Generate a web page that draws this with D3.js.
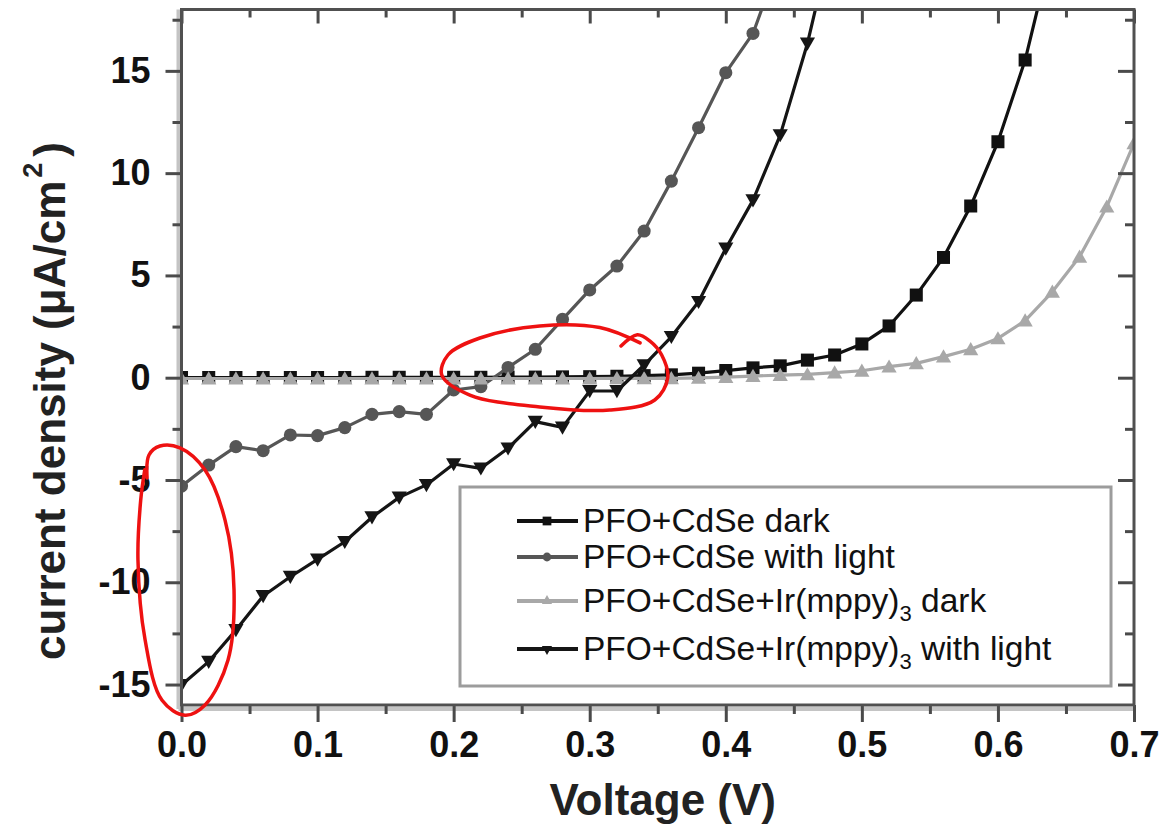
<!DOCTYPE html>
<html>
<head>
<meta charset="utf-8">
<script src="https://cdn.jsdelivr.net/npm/d3@7"></script>
<style>
  html, body { margin: 0; padding: 0; background: #fff; }
  svg { display: block; }
  text { font-family: "Liberation Sans", Arial, Helvetica, sans-serif; }
</style>
</head>
<body>
<svg id="chart" width="1164" height="833"></svg>
<script>
// Bias voltage (V), sampled every 20 mV
const voltage = [0.00, 0.02, 0.04, 0.06, 0.08, 0.10, 0.12, 0.14, 0.16, 0.18,
                 0.20, 0.22, 0.24, 0.26, 0.28, 0.30, 0.32, 0.34, 0.36, 0.38,
                 0.40, 0.42, 0.44, 0.46, 0.48, 0.50, 0.52, 0.54, 0.56, 0.58,
                 0.60, 0.62, 0.64, 0.66, 0.68, 0.70];

// Current density (uA/cm^2); each list starts at 0 V
const cdseDark = [0.01, 0.01, 0.01, 0.01, 0.01, 0.01, 0.01, 0.02, 0.02, 0.02,
                  0.02, 0.02, 0.03, 0.03, 0.04, 0.05, 0.07, 0.10, 0.14, 0.22,
                  0.35, 0.48, 0.58, 0.86, 1.11, 1.65, 2.53, 4.04, 5.88, 8.39,
                  11.53, 15.53, 21.0];
const cdseLight = [-5.30, -4.27, -3.37, -3.57, -2.80, -2.83, -2.44, -1.79, -1.66, -1.79,
                   -0.60, -0.44, 0.50, 1.39, 2.85, 4.29, 5.46, 7.17, 9.61, 12.22,
                   14.91, 16.83, 20.5];
const irDark = [-0.04, -0.04, -0.04, -0.04, -0.04, -0.04, -0.04, -0.04, -0.04, -0.04,
                -0.04, -0.04, -0.04, -0.04, -0.04, -0.04, -0.03, -0.03, -0.03, -0.01,
                0.03, 0.08, 0.13, 0.16, 0.25, 0.34, 0.54, 0.70, 1.03, 1.39,
                1.92, 2.79, 4.20, 5.91, 8.36, 11.46];
const irLight = [-15.02, -13.88, -12.33, -10.67, -9.73, -8.88, -8.02, -6.82, -5.85, -5.24,
                 -4.22, -4.43, -3.45, -2.15, -2.43, -0.65, -0.65, 0.62, 2.00, 3.71,
                 6.32, 8.68, 11.86, 16.34, 22.0];

// Axis ticks
const xTicks = [0.0, 0.1, 0.2, 0.3, 0.4, 0.5, 0.6, 0.7];
const xMinorTicks = [0.05, 0.15, 0.25, 0.35, 0.45, 0.55, 0.65];
const yTicks = [-15, -10, -5, 0, 5, 10, 15];
const yMinorTicks = [-12.5, -7.5, -2.5, 2.5, 7.5, 12.5, 17.5];

// Series labels (main text, subscript, trailing text)
const seriesLabels = [
  ["PFO+CdSe dark", "", ""],
  ["PFO+CdSe with light", "", ""],
  ["PFO+CdSe+Ir(mppy)", "3", " dark"],
  ["PFO+CdSe+Ir(mppy)", "3", " with light"]
];

// Hand-drawn highlight loops, in data units (V, uA/cm^2)
const loopOpenCircuit = [[0.3230, 1.55], [0.3350, 2.10], [0.3441, 1.80], [0.3529, 1.11],
  [0.3573, -0.01], [0.3478, -1.09], [0.3147, -1.58], [0.2633, -1.43], [0.2119, -0.85],
  [0.1913, 0.13], [0.1958, 1.11], [0.2193, 1.94], [0.2633, 2.53], [0.3074, 2.45], [0.3370, 1.70]];
const loopShortCircuit = [[-0.0253, -4.90], [-0.0239, -3.78], [-0.0158, -3.34], [-0.0011, -3.43],
  [0.0173, -4.51], [0.0320, -6.96], [0.0386, -10.38], [0.0342, -13.8], [0.0173, -16.0],
  [0.0026, -16.5], [-0.0143, -15.77], [-0.0268, -12.8], [-0.032, -8.9], [-0.030, -6.0], [-0.027, -4.5]];

const svg = d3.select("#chart");
const plotLeft = 181.5, plotRight = 1134, plotTop = 9.5, plotBottom = 705;
const x = d3.scaleLinear().domain([0, 0.7]).range([plotLeft, plotRight]);
const y = d3.scaleLinear().domain([-16, 18]).range([plotBottom, plotTop]);

const seriesDefs = [
  { values: cdseDark,  color: "#111111", symbol: d3.symbolSquare,   size: 170, rotate: 0 },
  { values: cdseLight, color: "#565656", symbol: d3.symbolCircle,   size: 135, rotate: 0 },
  { values: irDark,    color: "#a8a8a8", symbol: d3.symbolTriangle, size: 100, rotate: 0 },
  { values: irLight,   color: "#151515", symbol: d3.symbolTriangle, size: 100, rotate: 180 }
];

svg.append("defs").append("clipPath").attr("id", "plot-clip")
  .append("rect").attr("x", plotLeft).attr("y", plotTop)
  .attr("width", plotRight - plotLeft).attr("height", plotBottom - plotTop);

// soft halo along the left and bottom axis lines
svg.append("line").attr("x1", plotLeft - 3).attr("x2", plotLeft - 3).attr("y1", plotTop).attr("y2", plotBottom + 4)
  .attr("stroke", "#c4c4c4").attr("stroke-width", 4);
svg.append("line").attr("x1", plotLeft - 3).attr("x2", plotRight).attr("y1", plotBottom + 4).attr("y2", plotBottom + 4)
  .attr("stroke", "#c4c4c4").attr("stroke-width", 4);

// series
const plot = svg.append("g").attr("clip-path", "url(#plot-clip)");
const line = d3.line().x(d => x(d[0])).y(d => y(d[1]));
seriesDefs.forEach(s => {
  const pts = s.values.map((v, i) => [voltage[i], v]);
  plot.append("path").datum(pts)
    .attr("fill", "none").attr("stroke", s.color).attr("stroke-width", 3.2)
    .attr("stroke-linejoin", "round").attr("d", line);
  const sym = d3.symbol().type(s.symbol).size(s.size);
  const shift = s.symbol === d3.symbolTriangle ? (s.rotate ? -1.5 : 1.5) : 0;
  plot.selectAll(null).data(pts.filter(p => y(p[1]) >= plotTop - 8)).join("path")
    .attr("d", sym)
    .attr("fill", s.color)
    .attr("transform", p => `translate(${x(p[0])},${y(p[1]) + shift}) rotate(${s.rotate})`);
});

// axes
const fmtX = d => d.toFixed(1);
const fmtY = d => String(d);
const axisColor = "#4a4a4a";

const gBottom = svg.append("g").attr("transform", `translate(0,${plotBottom})`)
  .call(d3.axisBottom(x).tickValues(xTicks).tickSize(17).tickPadding(9).tickFormat(fmtX));
const gBottomMinor = svg.append("g").attr("transform", `translate(0,${plotBottom})`)
  .call(d3.axisBottom(x).tickValues(xMinorTicks).tickSize(9).tickFormat(""));
const gLeft = svg.append("g").attr("transform", `translate(${plotLeft},0)`)
  .call(d3.axisLeft(y).tickValues(yTicks).tickSize(16).tickPadding(15).tickFormat(fmtY));
const gLeftMinor = svg.append("g").attr("transform", `translate(${plotLeft},0)`)
  .call(d3.axisLeft(y).tickValues(yMinorTicks).tickSize(9).tickFormat(""));
const gTop = svg.append("g").attr("transform", `translate(0,${plotTop})`)
  .call(d3.axisBottom(x).tickValues(xTicks).tickSize(14).tickFormat(""));
const gTopMinor = svg.append("g").attr("transform", `translate(0,${plotTop})`)
  .call(d3.axisBottom(x).tickValues(xMinorTicks).tickSize(8).tickFormat(""));
const gRight = svg.append("g").attr("transform", `translate(${plotRight},0)`)
  .call(d3.axisLeft(y).tickValues(yTicks).tickSize(16).tickFormat(""));
const gRightMinor = svg.append("g").attr("transform", `translate(${plotRight},0)`)
  .call(d3.axisLeft(y).tickValues(yMinorTicks).tickSize(9).tickFormat(""));

[gBottom, gBottomMinor, gLeft, gLeftMinor, gTop, gTopMinor, gRight, gRightMinor].forEach(g => {
  g.select(".domain").remove();
  g.selectAll(".tick line").attr("stroke", axisColor).attr("stroke-width", 3);
});
[gBottom, gLeft].forEach(g => {
  g.selectAll(".tick text").attr("fill", "#111").attr("font-size", 36)
    .attr("font-weight", "bold").attr("font-family", "Liberation Sans, Arial, sans-serif");
});

// frame
svg.append("rect").attr("x", plotLeft).attr("y", plotTop)
  .attr("width", plotRight - plotLeft).attr("height", plotBottom - plotTop)
  .attr("fill", "none").attr("stroke", "#505050").attr("stroke-width", 3);

// axis titles
svg.append("text").attr("x", (plotLeft + plotRight) / 2 + 5).attr("y", 815)
  .attr("text-anchor", "middle").attr("font-size", 44).attr("font-weight", "bold")
  .attr("fill", "#222").text("Voltage (V)");

const yTitle = svg.append("text")
  .attr("transform", "translate(65,401) rotate(-90)")
  .attr("text-anchor", "middle").attr("font-size", 44).attr("font-weight", "bold").attr("fill", "#222");
yTitle.append("tspan").text("current density (\u03bcA/cm");
yTitle.append("tspan").attr("font-size", 27).attr("dy", -23).attr("dx", 3).text("2");
yTitle.append("tspan").attr("dy", 23).attr("dx", 6).text(")");

// legend
const legend = svg.append("g");
legend.append("rect").attr("x", 460).attr("y", 487).attr("width", 651).attr("height", 199)
  .attr("fill", "#fff").attr("stroke", "#9c9c9c").attr("stroke-width", 3);
const rowY = [521, 557, 601, 649];
seriesDefs.forEach((s, i) => {
  const g = legend.append("g").attr("transform", `translate(0,${rowY[i]})`);
  g.append("line").attr("x1", 517).attr("x2", 578).attr("y1", 0).attr("y2", 0)
    .attr("stroke", s.color).attr("stroke-width", 4);
  g.append("path").attr("d", d3.symbol().type(s.symbol).size(s.size * 0.45))
    .attr("fill", s.color).attr("transform", `translate(547,0) rotate(${s.rotate})`);
  const t = g.append("text").attr("x", 583).attr("y", 11).attr("font-size", 33.5)
    .attr("fill", "#111").attr("textLength", null);
  const [main, sub, tail] = seriesLabels[i];
  t.append("tspan").text(main);
  if (sub) {
    t.append("tspan").attr("font-size", 22).attr("dy", 9).text(sub);
    t.append("tspan").attr("dy", -9).text(tail);
  }
});

// red highlight loops
const loopLine = d3.line().x(d => x(d[0])).y(d => y(d[1])).curve(d3.curveCatmullRom.alpha(0.5));
[loopOpenCircuit, loopShortCircuit].forEach(pts => {
  svg.append("path").datum(pts).attr("d", loopLine)
    .attr("fill", "none").attr("stroke", "#ee1111").attr("stroke-width", 3.5)
    .attr("stroke-linecap", "round").attr("stroke-linejoin", "round");
});
</script>
</body>
</html>
